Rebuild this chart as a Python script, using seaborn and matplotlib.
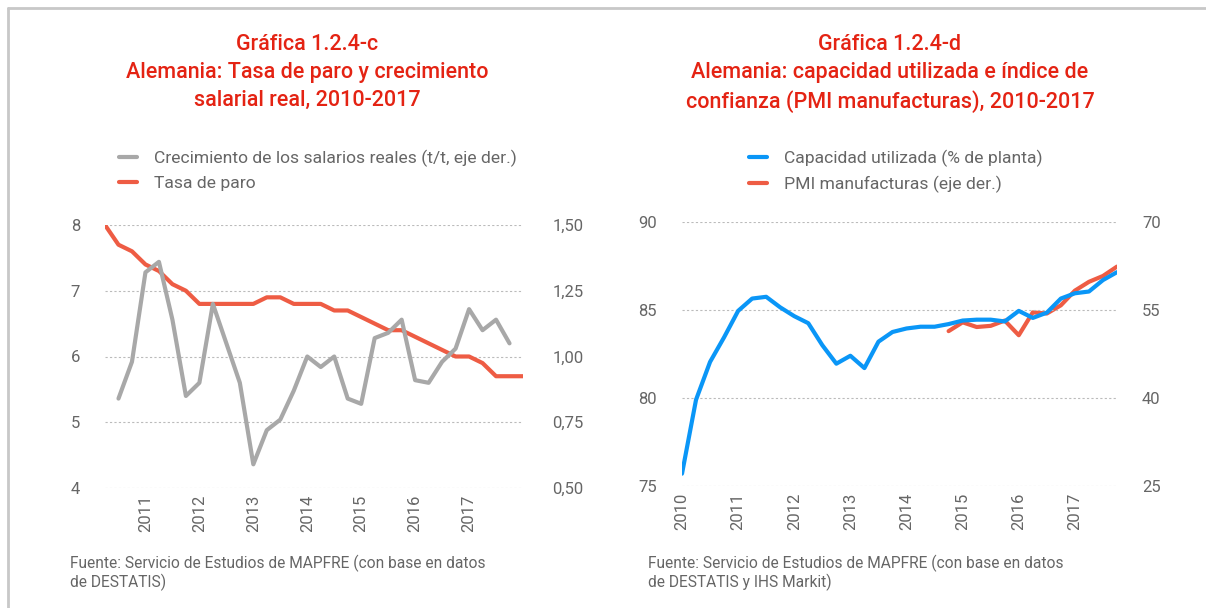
import matplotlib
matplotlib.use("Agg")
import numpy as np
import matplotlib.pyplot as plt
import seaborn as sns
from matplotlib.lines import Line2D
from matplotlib.ticker import FixedLocator, FuncFormatter

# quarterly data 2010T1 - 2017T4
tasa_paro = [8.0, 7.7, 7.6, 7.4, 7.3, 7.1, 7.0, 6.8, 6.8, 6.8, 6.8, 6.8, 6.9, 6.9, 6.8, 6.8,
             6.8, 6.7, 6.7, 6.6, 6.5, 6.4, 6.4, 6.3, 6.2, 6.1, 6.0, 6.0, 5.9, 5.7, 5.7, 5.7]
salarios = [np.nan, 0.84, 0.98, 1.32, 1.36, 1.14, 0.85, 0.90, 1.20, 1.05, 0.90, 0.59, 0.72, 0.76,
            0.87, 1.00, 0.96, 1.00, 0.84, 0.82, 1.07, 1.09, 1.14, 0.91, 0.90, 0.98, 1.03, 1.18,
            1.10, 1.14, 1.05, np.nan]
capacidad = [75.7, 79.9, 82.05, 83.45, 84.95, 85.65, 85.75, 85.15, 84.65, 84.25, 83.0, 81.95,
             82.4, 81.7, 83.2, 83.75, 83.95, 84.05, 84.05, 84.2, 84.4, 84.45, 84.45, 84.35,
             84.95, 84.55, 84.85, 85.65, 85.95, 86.05, 86.7, 87.15]
pmi = [np.nan] * 19 + [51.4, 52.9, 52.1, 52.3, 53.2, 50.7, 54.6, 54.4, 55.8, 58.3, 59.8, 60.8, 62.4]

years_c = ["2011", "2012", "2013", "2014", "2015", "2016", "2017"]
years_d = ["2010", "2011", "2012", "2013", "2014", "2015", "2016", "2017"]

titulo_c = "Gráfica 1.2.4-c\nAlemania: Tasa de paro y crecimiento\nsalarial real, 2010-2017"
titulo_d = "Gráfica 1.2.4-d\nAlemania: capacidad utilizada e índice de\nconfianza (PMI manufacturas), 2010-2017"
fuente_c = "Fuente: Servicio de Estudios de MAPFRE (con base en datos\nde DESTATIS)"
fuente_d = "Fuente: Servicio de Estudios de MAPFRE (con base en datos\nde DESTATIS y IHS Markit)"

RED = "#EE5C44"
GREY = "#A8A8A8"
BLUE = "#0A96F7"
TITLE_RED = "#E42313"
TXT = "#666666"

sns.set_style("white")
plt.rcParams["font.family"] = ["Roboto", "DejaVu Sans"]

W, H = 1206, 608
fig = plt.figure(figsize=(W / 100, H / 100), dpi=100)


def frac(x0, y_top, x1, y_bot):
    return [x0 / W, 1 - y_bot / H, (x1 - x0) / W, (y_bot - y_top) / H]


def style_axis(ax, ticks, labels, pad_l=18):
    for s in ax.spines.values():
        s.set_visible(False)
    ax.tick_params(axis="both", length=0, labelsize=12, labelcolor=TXT)
    ax.tick_params(axis="y", pad=pad_l)
    ax.xaxis.set_major_locator(FixedLocator(ticks))
    ax.set_xticklabels(labels, rotation=90)
    ax.tick_params(axis="x", pad=5)
    ax.grid(axis="y", color="#BBBBBB", linestyle=(0, (2, 2)), linewidth=0.8)
    ax.grid(axis="x", visible=False)
    ax.set_xlabel("")
    ax.set_ylabel("")


comma = FuncFormatter(lambda v, p: f"{v:.2f}".replace(".", ","))

# ---------- left chart ----------
x = np.arange(len(tasa_paro))
ax1 = fig.add_axes(frac(105, 225, 523, 488))
ax1b = ax1.twinx()
sns.lineplot(x=x, y=tasa_paro, ax=ax1, color=RED, linewidth=3, label="Tasa de paro", legend=False)
sns.lineplot(x=x, y=salarios, ax=ax1b, color=GREY, linewidth=3,
             label="Crecimiento de los salarios reales (t/t, eje der.)", legend=False)
ax1.set_xlim(0, len(x) - 1)
ax1.set_ylim(4, 8)
ax1.set_yticks([4, 5, 6, 7, 8])
ax1b.set_ylim(0.5, 1.5)
ax1b.set_yticks([0.5, 0.75, 1.0, 1.25, 1.5])
ax1b.yaxis.set_major_formatter(comma)
style_axis(ax1, [3, 7, 11, 15, 19, 23, 27], years_c)
for s in ax1b.spines.values():
    s.set_visible(False)
ax1b.tick_params(axis="y", length=0, labelsize=12, labelcolor=TXT, pad=21)
ax1b.set_ylabel("")

# ---------- right chart ----------
x2 = np.arange(len(capacidad))
ax2 = fig.add_axes(frac(682, 222, 1117, 486))
ax2b = ax2.twinx()
sns.lineplot(x=x2, y=pmi, ax=ax2b, color=RED, linewidth=3, label="PMI manufacturas (eje der.)", legend=False)
sns.lineplot(x=x2, y=capacidad, ax=ax2, color=BLUE, linewidth=3,
             label="Capacidad utilizada (% de planta)", legend=False)
ax2.set_zorder(ax2b.get_zorder() + 1)
ax2.patch.set_visible(False)
ax2.set_xlim(0, len(x2) - 1)
ax2.set_ylim(75, 90)
ax2.set_yticks([75, 80, 85, 90])
ax2b.set_ylim(25, 70)
ax2b.set_yticks([25, 40, 55, 70])
style_axis(ax2, [0, 4, 8, 12, 16, 20, 24, 28], years_d)
for s in ax2b.spines.values():
    s.set_visible(False)
ax2b.tick_params(axis="y", length=0, labelsize=12, labelcolor=TXT, pad=18)
ax2b.set_ylabel("")

# ---------- titles, legends, sources ----------
for cx, txt in [(307, titulo_c), (890, titulo_d)]:
    fig.text(cx / W, 1 - 34 / H, txt, ha="center", va="top", color=TITLE_RED,
             fontsize=15.5, fontweight="medium", linespacing=1.42)

legend_kw = dict(loc="upper left", frameon=False, fontsize=12.6, labelcolor=TXT,
                 handlelength=1.0, handletextpad=1.0, borderpad=0, borderaxespad=0,
                 labelspacing=0.47)
h1 = [Line2D([], [], color=GREY, lw=3), Line2D([], [], color=RED, lw=3)]
fig.legend(h1, ["Crecimiento de los salarios reales (t/t, eje der.)", "Tasa de paro"],
           bbox_to_anchor=(119 / W, 1 - 150 / H), **legend_kw)
h2 = [Line2D([], [], color=BLUE, lw=3), Line2D([], [], color=RED, lw=3)]
fig.legend(h2, ["Capacidad utilizada (% de planta)", "PMI manufacturas (eje der.)"],
           bbox_to_anchor=(749 / W, 1 - 150 / H), **legend_kw)

fig.text(70 / W, 1 - 555 / H, fuente_c, ha="left", va="top", color=TXT, fontsize=11.2, linespacing=1.1)
fig.text(648 / W, 1 - 555 / H, fuente_d, ha="left", va="top", color=TXT, fontsize=11.2, linespacing=1.1)

# frame
fig.add_artist(Line2D([8 / W, 1], [1 - 8 / H, 1 - 8 / H], color="#C8C8C8", lw=2))
fig.add_artist(Line2D([8 / W, 8 / W], [0, 1 - 8 / H], color="#C8C8C8", lw=2))

fig.savefig("out.png", dpi=100)
